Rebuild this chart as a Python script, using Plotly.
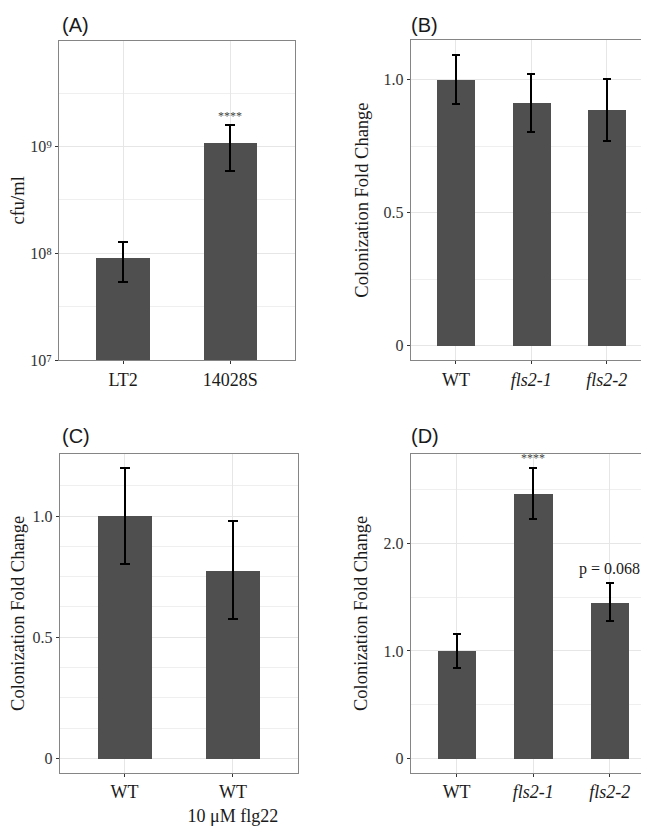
import plotly.graph_objects as go

W, H = 649, 826

# Panel A
a_cats = ["LT2", "14028S"]
a_vals = [9.05e7, 1.08e9]
a_hi = [1.27e8, 1.57e9]
a_lo = [5.35e7, 5.9e8]
a_ticks = ["10⁷", "10⁸", "10⁹"]

# Panel B
b_cats = ["WT", "<i>fls2-1</i>", "<i>fls2-2</i>"]
b_vals = [1.0, 0.913, 0.886]
b_hi = [1.094, 1.022, 1.004]
b_lo = [0.907, 0.803, 0.768]

# Panel C
c_cats = ["WT", "WT<br>10 μM flg22"]
c_vals = [1.0, 0.775]
c_hi = [1.197, 0.98]
c_lo = [0.803, 0.575]

# Panel D
d_cats = ["WT", "<i>fls2-1</i>", "<i>fls2-2</i>"]
d_vals = [1.0, 2.463, 1.448]
d_hi = [1.159, 2.70, 1.628]
d_lo = [0.841, 2.226, 1.276]

BAR = "#4f4f4f"
GRID = "#e6e6e6"
MINOR = "#efefef"
SERIF = "Liberation Serif"
SANS = "Liberation Sans"
TITLE_FONT = dict(family=SERIF, size=18.5, color="#1a1a1a")

fig = go.Figure()

def px_x(a, b):
    return [a / W, b / W]

def px_y(top, bot):
    return [1 - bot / H, 1 - top / H]

panels = [
    ("x", "y", a_cats, a_vals, a_hi, a_lo, px_x(51, 287), px_y(33, 356), 5),
    ("x2", "y2", b_cats, b_vals, b_hi, b_lo, px_x(403.3, 645), px_y(32.3, 356), 4),
    ("x3", "y3", c_cats, c_vals, c_hi, c_lo, px_x(51.7, 290.3), px_y(450.7, 773.3), 5),
    ("x4", "y4", d_cats, d_vals, d_hi, d_lo, px_x(403.3, 648.7), px_y(450.7, 773.3), 4),
]

layout = {}
for i, (xa, ya, cats, vals, hi, lo, xd, yd, cw) in enumerate(panels):
    fig.add_trace(go.Bar(
        x=cats, y=vals, xaxis=xa, yaxis=ya, width=0.5,
        marker=dict(color=BAR, line=dict(width=0)),
        error_y=dict(type="data", symmetric=False,
                     array=[h - v for h, v in zip(hi, vals)],
                     arrayminus=[v - l for l, v in zip(lo, vals)],
                     color="black", thickness=2, width=cw),
        showlegend=False,
    ))
    n = len(cats)
    xk = "xaxis" if i == 0 else f"xaxis{i+1}"
    yk = "yaxis" if i == 0 else f"yaxis{i+1}"
    layout[xk] = dict(
        domain=xd, anchor=ya, type="category", range=[-0.6, n - 0.4],
        showgrid=True, gridcolor=GRID, gridwidth=1,
        showline=True, linecolor="#858585", linewidth=1, mirror=True,
        ticks="outside", ticklen=3, tickcolor="#333333", tickwidth=1,
        tickfont=dict(family=SERIF, size=18, color="#1a1a1a"),
        zeroline=False,
    )
    layout[yk] = dict(
        domain=yd, anchor=xa,
        showgrid=True, gridcolor=GRID, gridwidth=1,
        showline=True, linecolor="#858585", linewidth=1, mirror=True,
        ticks="outside", ticklen=3, tickcolor="#333333", tickwidth=1,
        tickfont=dict(family=SERIF, size=16, color="#333333"),
        zeroline=False,
    )

# Panel A y (log)
layout["yaxis"].update(
    type="log", range=[7, 9.99],
    tickvals=[1e7, 1e8, 1e9],
    ticktext=a_ticks,
    minor=dict(tickvals=[10**7.5, 10**8.5, 10**9.5], showgrid=True, gridcolor=MINOR, ticks=""),
    title=dict(text="cfu/ml", standoff=6, font=TITLE_FONT),
)
# Panel B y
layout["yaxis2"].update(
    range=[-0.0547, 1.149], tickvals=[0, 0.5, 1.0], ticktext=["0", "0.5", "1.0"],
    minor=dict(tickvals=[0.25, 0.75], showgrid=True, gridcolor=MINOR, ticks=""),
    title=dict(text="Colonization Fold Change", standoff=10, font=TITLE_FONT),
)
# Panel C y
layout["yaxis3"].update(
    range=[-0.06, 1.257], tickvals=[0, 0.5, 1.0], ticktext=["0", "0.5", "1.0"],
    minor=dict(tickvals=[0.125, 0.25, 0.375, 0.625, 0.75, 0.875, 1.125],
               showgrid=True, gridcolor=MINOR, ticks=""),
    title=dict(text="Colonization Fold Change", standoff=10, font=TITLE_FONT),
)
# Panel D y
layout["yaxis4"].update(
    range=[-0.135, 2.835], tickvals=[0, 1.0, 2.0], ticktext=["0", "1.0", "2.0"],
    minor=dict(tickvals=[0.5, 1.5, 2.5], showgrid=True, gridcolor=MINOR, ticks=""),
    title=dict(text="Colonization Fold Change", standoff=10, font=TITLE_FONT),
)

annotations = []
for txt, x, y in [("(A)", 52, 17), ("(B)", 402, 17), ("(C)", 52, 433), ("(D)", 402, 433)]:
    annotations.append(dict(text=txt, xref="paper", yref="paper", x=x / W, y=1 - y / H,
                            xanchor="left", yanchor="middle", showarrow=False,
                            font=dict(family=SANS, size=20, color="#1a1a1a")))
annotations.append(dict(text="****", xref="x", yref="y", x="14028S", y=9.2, yanchor="bottom",
                        showarrow=False, font=dict(family=SERIF, size=12, color="#444444")))
annotations.append(dict(text="****", xref="x4", yref="y4", x="<i>fls2-1</i>", y=2.71, yanchor="bottom",
                        showarrow=False, font=dict(family=SERIF, size=12, color="#444444")))
annotations.append(dict(text="p = 0.068", xref="x4", yref="y4", x="<i>fls2-2</i>", y=1.66, yanchor="bottom",
                        showarrow=False, font=dict(family=SERIF, size=16, color="#1a1a1a")))

fig.update_layout(
    width=W, height=H, margin=dict(l=0, r=0, t=0, b=0),
    paper_bgcolor="white", plot_bgcolor="white",
    annotations=annotations, bargap=0,
    **layout,
)

fig.write_html("out.html")
